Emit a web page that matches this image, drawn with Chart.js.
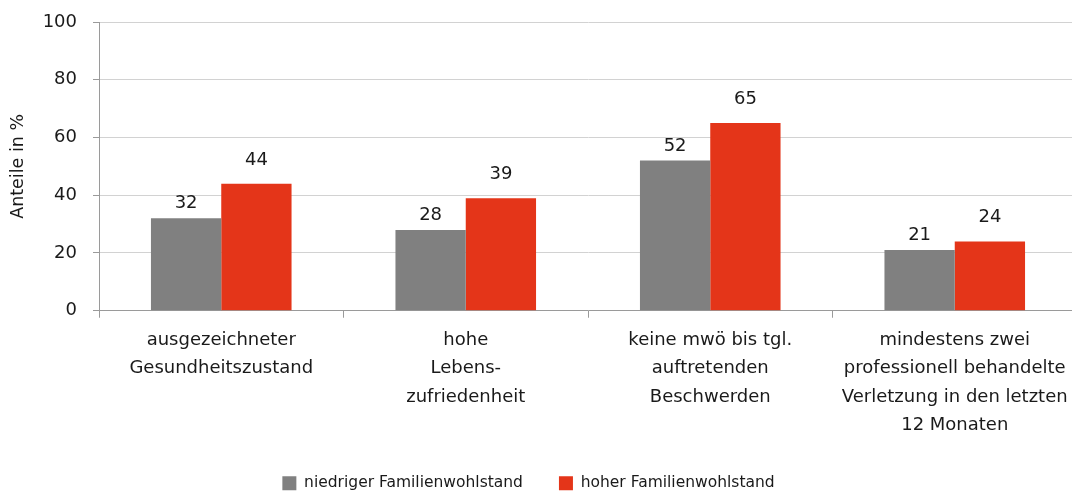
<!DOCTYPE html>
<html>
<head>
<meta charset="utf-8">
<script src="https://cdn.jsdelivr.net/npm/chart.js@4/dist/chart.umd.min.js"></script>
<style>
  html, body { margin: 0; padding: 0; background: #fff; overflow: hidden; }
  #chart { display: block; }
</style>
</head>
<body>
<canvas id="chart" width="1077" height="509"></canvas>
<script>
const categories = [
    ['ausgezeichneter', 'Gesundheitszustand'],
    ['hohe', 'Lebens-', 'zufriedenheit'],
    ['keine mwö bis tgl.', 'auftretenden', 'Beschwerden'],
    ['mindestens zwei', 'professionell behandelte', 'Verletzung in den letzten', '12 Monaten']
];
const lowWealth = [32, 28, 52, 21];
const highWealth = [44, 39, 65, 24];
const seriesNames = ['niedriger Familienwohlstand', 'hoher Familienwohlstand'];
const yTicks = [0, 20, 40, 60, 80, 100];

const FONT = "'DejaVu Sans', sans-serif";
const TEXT = '#1a1a1a';

// writes the value above every bar (gap differs per series)
const labelGap = [10, 19];
const valueLabels = {
    id: 'valueLabels',
    afterDatasetsDraw(chart) {
        const ctx = chart.ctx;
        ctx.save();
        ctx.font = '18px ' + FONT;
        ctx.fillStyle = TEXT;
        ctx.textAlign = 'center';
        ctx.textBaseline = 'alphabetic';
        chart.data.datasets.forEach((ds, i) => {
            chart.getDatasetMeta(i).data.forEach((bar, j) => {
                ctx.fillText(ds.data[j], bar.x, bar.y - labelGap[i]);
            });
        });
        ctx.restore();
    }
};

// nudge the legend a little to the left and up
const legendShift = {
    id: 'legendShift',
    afterLayout(chart) {
        const lg = chart.legend;
        lg.left -= 10;
        lg.right -= 10;
        lg.top -= 8;
        lg.bottom -= 8;
    }
};

const ctx = document.getElementById('chart').getContext('2d');
new Chart(ctx, {
    type: 'bar',
    data: {
        labels: categories,
        datasets: [{
            label: seriesNames[0],
            data: lowWealth,
            backgroundColor: '#808080',
            categoryPercentage: 0.575,
            barPercentage: 1
        }, {
            label: seriesNames[1],
            data: highWealth,
            backgroundColor: '#e43519',
            categoryPercentage: 0.575,
            barPercentage: 1
        }]
    },
    options: {
        responsive: false,
        animation: false,
        layout: { padding: 0 },
        scales: {
            x: {
                grid: { drawOnChartArea: false, color: '#9a9a9a', tickLength: 7 },
                border: { color: '#9a9a9a' },
                ticks: { color: TEXT, font: { family: FONT, size: 18, lineHeight: 1.58 }, padding: 8, maxRotation: 0, autoSkip: false }
            },
            y: {
                min: 0,
                max: 100,
                afterBuildTicks(scale) { scale.ticks = yTicks.map(v => ({ value: v })); },
                afterFit(scale) { scale.width = 99; },
                grid: { color: '#d2d2d2', tickColor: '#9a9a9a', tickLength: 6 },
                border: { color: '#9a9a9a' },
                // small lineHeight keeps the top tick label from pushing the plot down
                ticks: { color: TEXT, font: { family: FONT, size: 18, lineHeight: 0.67 }, padding: 16 },
                title: { display: true, text: 'Anteile in %', color: TEXT, font: { family: FONT, size: 17.5 }, padding: { top: 8, bottom: 0 } }
            }
        },
        plugins: {
            legend: {
                position: 'bottom',
                labels: { color: TEXT, font: { family: FONT, size: 15.5 }, boxWidth: 14, boxHeight: 14, padding: 36 }
            },
            tooltip: { enabled: false }
        }
    },
    plugins: [valueLabels, legendShift]
});
</script>
</body>
</html>
